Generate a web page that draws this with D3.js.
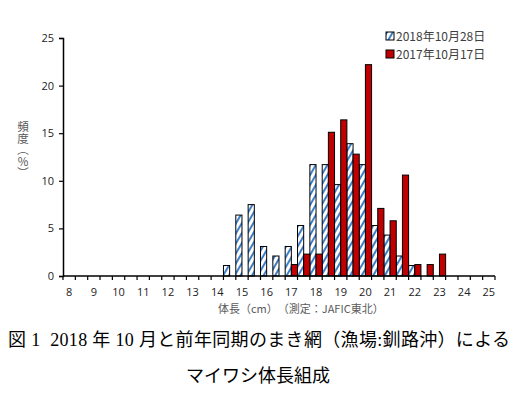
<!DOCTYPE html>
<html>
<head>
<meta charset="utf-8">
<script src="https://cdn.jsdelivr.net/npm/d3@7"></script>
<style>
  body { margin: 0; background: #fff; }
  svg { display: block; }
  .tick text { font-family: "Open Sans", "Liberation Sans", sans-serif; font-size: 11px; fill: #222; }
</style>
</head>
<body>
<div id="chart"></div>
<script>
//////////////////////// Data ////////////////////////////

// body length classes (cm), 0.5 cm steps
var lengths = [8, 8.5, 9, 9.5, 10, 10.5, 11, 11.5, 12, 12.5, 13, 13.5, 14, 14.5, 15, 15.5,
               16, 16.5, 17, 17.5, 18, 18.5, 19, 19.5, 20, 20.5, 21, 21.5, 22, 22.5, 23, 23.5,
               24, 24.5, 25];

// frequency (%) per class
var freq2018 = [0, 0, 0, 0, 0, 0, 0, 0, 0, 0, 0, 0, 0, 1.1, 6.4, 7.5,
                3.1, 2.1, 3.1, 5.3, 11.7, 11.7, 9.6, 13.9, 11.7, 5.3, 4.3, 2.1, 1.1, 0, 0, 0,
                0, 0, 0];
var freq2017 = [0, 0, 0, 0, 0, 0, 0, 0, 0, 0, 0, 0, 0, 0, 0, 0,
                0, 0, 1.2, 2.3, 2.3, 15.1, 16.4, 12.8, 22.2, 7.1, 5.8, 10.6, 1.2, 1.2, 2.3, 0,
                0, 0, 0];

var seriesNames = ["2018年10月28日", "2017年10月17日"];
var yTicks = [0, 5, 10, 15, 20, 25];
var xLabels = [8, 9, 10, 11, 12, 13, 14, 15, 16, 17, 18, 19, 20, 21, 22, 23, 24, 25];

//////////////////////// Set-Up ////////////////////////////

var W = 530, H = 394;
var plot = {left: 63, right: 495, top: 38, bottom: 276};

var svg = d3.select("#chart").append("svg")
  .attr("width", W)
  .attr("height", H);

var x = d3.scaleBand()
  .domain(lengths)
  .range([plot.left, plot.right])
  .paddingInner(0);

var xSub = d3.scaleBand()
  .domain([0, 1])
  .range([0, x.bandwidth()]);

var y = d3.scaleLinear()
  .domain([0, 25])
  .range([plot.bottom, plot.top]);

//hatched fill for the 2018 series
var defs = svg.append("defs");
var pat = defs.append("pattern")
  .attr("id", "hatch")
  .attr("patternUnits", "userSpaceOnUse")
  .attr("width", 5)
  .attr("height", 10)
  .attr("patternTransform", "rotate(30)");
pat.append("rect").attr("width", 5).attr("height", 10).attr("fill", "#fff");
pat.append("rect").attr("width", 2).attr("height", 10).attr("fill", "#3f7fc8");

var fills = ["url(#hatch)", "#c00000"];

//////////////////////// Bars ////////////////////////////

var series = [freq2018, freq2017];

series.forEach(function(vals, s) {
  svg.append("g")
    .selectAll("rect")
    .data(lengths.map(function(l, i) { return {len: l, v: vals[i]}; })
      .filter(function(d) { return d.v > 0; }))
    .enter().append("rect")
    .attr("x", function(d) { return x(d.len) + xSub(s); })
    .attr("y", function(d) { return y(d.v); })
    .attr("width", xSub.bandwidth())
    .attr("height", function(d) { return y(0) - y(d.v); })
    .attr("fill", fills[s])
    .attr("stroke", "#000")
    .attr("stroke-width", 1);
});

//////////////////////// Axes ////////////////////////////

//y axis
var yAxis = svg.append("g")
  .attr("transform", "translate(" + plot.left + ",0)")
  .call(d3.axisLeft(y).tickValues(yTicks).tickSize(4).tickPadding(5));
yAxis.select(".domain").attr("stroke", "#000").attr("stroke-width", 1.5);
yAxis.selectAll(".tick line").attr("stroke", "#000").attr("stroke-width", 1.2);

//x axis labels at integer classes (centered in the band)
var xAxis = svg.append("g")
  .attr("transform", "translate(0," + plot.bottom + ")")
  .call(d3.axisBottom(x).tickValues(xLabels).tickSize(0).tickPadding(12));
xAxis.select(".domain").remove();

//tick marks on class boundaries
var bounds = lengths.map(function(l) { return x(l); }).concat([plot.right]);
svg.append("g").selectAll("line")
  .data(bounds)
  .enter().append("line")
  .attr("x1", function(d) { return d; })
  .attr("x2", function(d) { return d; })
  .attr("y1", plot.bottom)
  .attr("y2", plot.bottom + 4)
  .attr("stroke", "#000")
  .attr("stroke-width", 1.2);

svg.append("line")
  .attr("x1", plot.left).attr("x2", plot.right)
  .attr("y1", plot.bottom).attr("y2", plot.bottom)
  .attr("stroke", "#000").attr("stroke-width", 1.5);

//axis titles
svg.append("text")
  .attr("x", 218).attr("y", 313)
  .style("font-family", "'Noto Sans CJK JP', sans-serif")
  .style("font-size", "11px")
  .style("fill", "#595959")
  .text("体長（cm）　（測定：JAFIC東北）");

//vertical y title
svg.append("text")
  .attr("x", 23).attr("y", 121)
  .style("font-family", "'Noto Sans CJK JP', sans-serif")
  .style("font-size", "11.5px")
  .style("fill", "#595959")
  .style("writing-mode", "vertical-rl")
  .style("text-orientation", "upright")
  .text("頻度（%）");

//////////////////////// Legend ////////////////////////////

var legend = svg.append("g").selectAll("g")
  .data(seriesNames)
  .enter().append("g")
  .attr("transform", function(d, i) { return "translate(386," + (32 + i * 18) + ")"; });

legend.append("rect")
  .attr("width", 8).attr("height", 8)
  .attr("fill", function(d, i) { return fills[i]; })
  .attr("stroke", "#000").attr("stroke-width", 1);

legend.append("text")
  .attr("x", 10).attr("y", 8.5)
  .style("font-family", "'Noto Sans CJK JP', sans-serif")
  .style("font-size", "12px")
  .style("fill", "#404040")
  .text(function(d) { return d; });

//////////////////////// Caption ////////////////////////////

svg.append("text")
  .attr("x", 8).attr("y", 346)
  .attr("textLength", 502)
  .style("font-family", "'Liberation Serif', 'Noto Sans CJK JP', serif")
  .style("font-size", "18px")
  .style("fill", "#000")
  .text("図 1\u00a0\u00a02018 年 10 月と前年同期のまき網（漁場:釧路沖）による");

svg.append("text")
  .attr("x", 258).attr("y", 382)
  .attr("text-anchor", "middle")
  .style("font-family", "'Liberation Serif', 'Noto Sans CJK JP', serif")
  .style("font-size", "18px")
  .style("fill", "#000")
  .text("マイワシ体長組成");
</script>
</body>
</html>
